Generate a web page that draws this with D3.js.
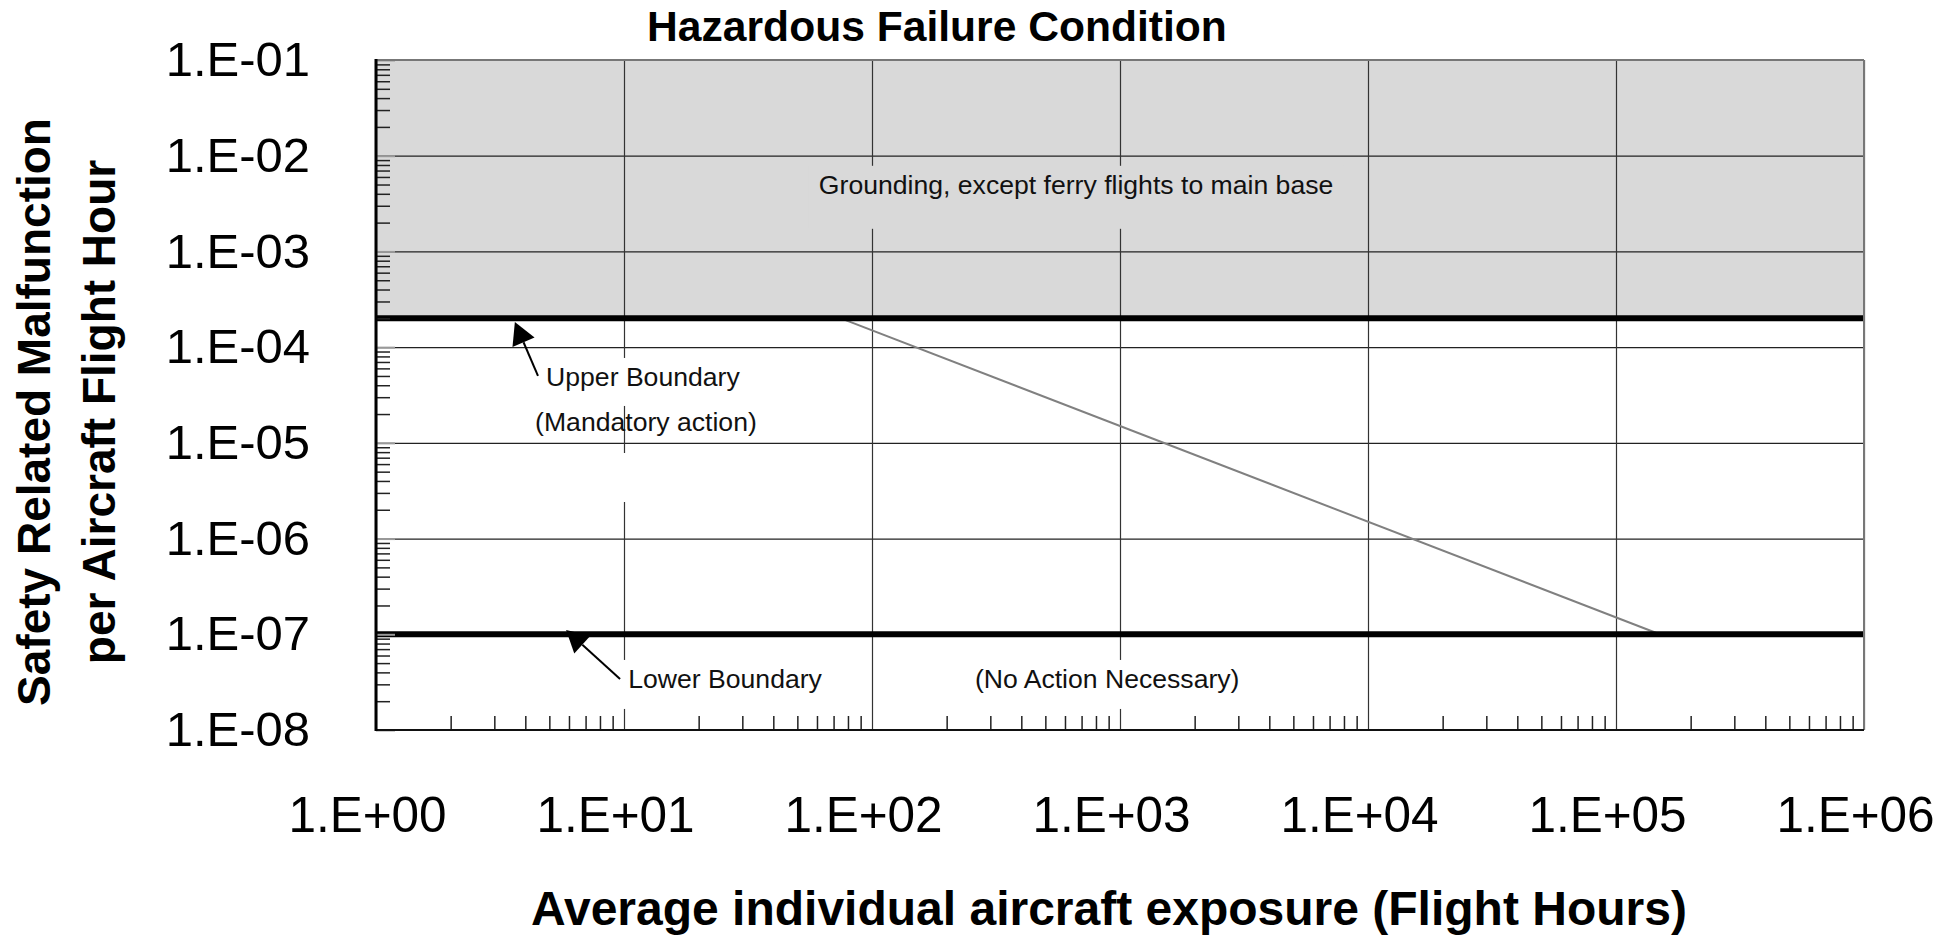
<!DOCTYPE html>
<html>
<head>
<meta charset="utf-8">
<script src="https://cdn.jsdelivr.net/npm/d3@7"></script>
<style>
  body { margin: 0; background: #fff; }
  text { font-family: "Liberation Sans", Arial, sans-serif; }
</style>
</head>
<body>
<div class="container"></div>
<script>
// axis ticks
const xTicks = [1, 1e1, 1e2, 1e3, 1e4, 1e5, 1e6];
const xLabels = ['1.E+00', '1.E+01', '1.E+02', '1.E+03', '1.E+04', '1.E+05', '1.E+06'];
const yTicks = [1e-1, 1e-2, 1e-3, 1e-4, 1e-5, 1e-6, 1e-7, 1e-8];
const yLabels = ['1.E-01', '1.E-02', '1.E-03', '1.E-04', '1.E-05', '1.E-06', '1.E-07', '1.E-08'];

// boundaries (malfunction rate per flight hour)
const upperBoundary = 2e-4;
const lowerBoundary = 1e-7;

// sloped line between the boundaries
const slopeX = [75, 1.5e5];
const slopeY = [2e-4, 1e-7];

// annotation texts (data coords)
const labelText = ['Grounding, except ferry flights to main base', 'Upper Boundary', '(Mandatory action)', 'Lower Boundary', '(No Action Necessary)'];
const labelX = [665, 4.85, 4.38, 10.4, 260];
const labelY = [4e-3, 3.93e-5, 1.33e-5, 2.75e-8, 2.75e-8];

// arrows: tail -> tip (data coords)
const arrowTail = [[4.5, 5.0e-5], [9.64, 3.41e-8]];
const arrowTip = [[3.63, 1.83e-4], [5.84, 1.11e-7]];

const width = 1957;
const height = 936;
const plotLeft = 376;
const plotRight = 1864;
const plotTop = 60;
const plotBottom = 730;

const x = d3.scaleLog().domain([1, 1e6]).range([plotLeft, plotRight]);
const y = d3.scaleLog().domain([1e-8, 1e-1]).range([plotBottom, plotTop]);

const minorX = [];
for (let e = 0; e < 6; e++) for (let k = 2; k < 10; k++) minorX.push(k * Math.pow(10, e));
const minorY = [];
for (let e = -8; e < -1; e++) for (let k = 2; k < 10; k++) minorY.push(k * Math.pow(10, e));

const svg = d3.select('.container')
  .append('svg')
  .attr('width', width)
  .attr('height', height);

// grounding zone
svg.append('rect')
  .attr('x', plotLeft)
  .attr('y', plotTop)
  .attr('width', plotRight - plotLeft)
  .attr('height', y(upperBoundary) - plotTop)
  .attr('fill', '#d9d9d9');

// grid
svg.append('g')
  .attr('transform', `translate(${plotLeft},0)`)
  .call(d3.axisLeft(y).tickValues(yTicks).tickSize(-(plotRight - plotLeft)).tickFormat(''))
  .call(g => g.select('.domain').remove())
  .call(g => g.selectAll('line').attr('stroke', '#222').attr('stroke-width', 1.2));

svg.append('g')
  .attr('transform', `translate(0,${plotBottom})`)
  .call(d3.axisBottom(x).tickValues(xTicks).tickSize(-(plotBottom - plotTop)).tickFormat(''))
  .call(g => g.select('.domain').remove())
  .call(g => g.selectAll('line').attr('stroke', '#333').attr('stroke-width', 1.2));

// box behind each label (offsets from baseline)
const boxes = [
  { fill: '#d9d9d9', t: -28, b: 35, pad: 10 },
  { fill: '#fff', t: -28, b: 20, pad: 10 },
  { fill: '#fff', t: 22, b: 71, pad: 6 },
  { fill: '#fff', t: -28, b: 21, pad: 12 },
  { fill: '#fff', t: -28, b: 21, pad: 10 },
];

const labels = svg.append('g');
labelText.forEach((t, i) => {
  const g = labels.append('g');
  const rect = g.append('rect').attr('fill', boxes[i].fill);
  const txt = g.append('text')
    .attr('x', x(labelX[i]))
    .attr('y', y(labelY[i]))
    .attr('text-anchor', i === 0 ? 'middle' : 'start')
    .attr('font-size', 26.6)
    .attr('fill', '#111')
    .text(t);
  const bb = txt.node().getBBox();
  const by = y(labelY[i]);
  rect.attr('x', bb.x - boxes[i].pad)
    .attr('width', bb.width + 2 * boxes[i].pad)
    .attr('y', by + boxes[i].t)
    .attr('height', boxes[i].b - boxes[i].t);
  txt.raise();
});

// sloped line
svg.append('path')
  .datum(slopeX.map((d, i) => [d, slopeY[i]]))
  .attr('d', d3.line().x(d => x(d[0])).y(d => y(d[1])))
  .attr('fill', 'none')
  .attr('stroke', '#808080')
  .attr('stroke-width', 2);

// arrows
arrowTail.forEach((tail, i) => {
  const x0 = x(tail[0]), y0 = y(tail[1]);
  const x1 = x(arrowTip[i][0]), y1 = y(arrowTip[i][1]);
  const len = Math.hypot(x1 - x0, y1 - y0);
  const ux = (x1 - x0) / len, uy = (y1 - y0) / len;
  const bx = x1 - ux * 22, by = y1 - uy * 22;
  svg.append('line')
    .attr('x1', x0).attr('y1', y0).attr('x2', bx).attr('y2', by)
    .attr('stroke', '#000').attr('stroke-width', 2);
  svg.append('path')
    .attr('d', `M${x1},${y1}L${bx - uy * 12},${by + ux * 12}L${bx + uy * 12},${by - ux * 12}Z`)
    .attr('fill', '#000');
});

// boundaries
svg.append('g')
  .selectAll('line')
  .data([upperBoundary, lowerBoundary])
  .enter()
  .append('line')
  .attr('x1', plotLeft)
  .attr('x2', plotRight)
  .attr('y1', d => y(d))
  .attr('y2', d => y(d))
  .attr('stroke', '#000')
  .attr('stroke-width', 6);

// minor ticks
svg.append('g')
  .attr('transform', `translate(${plotLeft},0)`)
  .call(d3.axisRight(y).tickValues(minorY).tickSize(14).tickFormat(''))
  .call(g => g.select('.domain').remove())
  .call(g => g.selectAll('line').attr('stroke', '#222').attr('stroke-width', 1.5));

svg.append('g')
  .attr('transform', `translate(${plotLeft},0)`)
  .call(d3.axisRight(y).tickValues(yTicks).tickSize(19).tickFormat(''))
  .call(g => g.select('.domain').remove())
  .call(g => g.selectAll('line').attr('stroke', '#999').attr('stroke-width', 2));

svg.append('g')
  .attr('transform', `translate(0,${plotBottom})`)
  .call(d3.axisTop(x).tickValues(minorX).tickSize(14).tickFormat(''))
  .call(g => g.select('.domain').remove())
  .call(g => g.selectAll('line').attr('stroke', '#222').attr('stroke-width', 1.5));

// frame
svg.append('line').attr('x1', plotLeft).attr('x2', plotRight).attr('y1', plotTop).attr('y2', plotTop)
  .attr('stroke', '#777').attr('stroke-width', 2);
svg.append('line').attr('x1', plotRight).attr('x2', plotRight).attr('y1', plotTop).attr('y2', plotBottom)
  .attr('stroke', '#777').attr('stroke-width', 2);
svg.append('line').attr('x1', plotLeft).attr('x2', plotRight).attr('y1', plotBottom).attr('y2', plotBottom)
  .attr('stroke', '#111').attr('stroke-width', 2);
svg.append('line').attr('x1', plotLeft).attr('x2', plotLeft).attr('y1', plotTop - 1).attr('y2', plotBottom + 1)
  .attr('stroke', '#000').attr('stroke-width', 3);

// tick labels
svg.append('g')
  .attr('transform', `translate(${plotLeft},0)`)
  .call(d3.axisLeft(y).tickValues(yTicks).tickSize(0).tickPadding(66).tickFormat((d, i) => yLabels[i]))
  .call(g => g.select('.domain').remove())
  .call(g => g.selectAll('text')
    .attr('font-size', 49)
    .attr('font-family', '"Liberation Sans", Arial, sans-serif')
    .attr('fill', '#000'));

svg.append('g')
  .attr('transform', `translate(0,${plotBottom})`)
  .call(d3.axisBottom(x).tickValues(xTicks).tickSize(0).tickPadding(67).tickFormat((d, i) => xLabels[i]))
  .call(g => g.select('.domain').remove())
  .call(g => g.selectAll('text')
    .attr('dx', -9)
    .attr('font-size', 49.5)
    .attr('font-family', '"Liberation Sans", Arial, sans-serif')
    .attr('fill', '#000'));

// titles
svg.append('text')
  .attr('x', 937)
  .attr('y', 41)
  .attr('text-anchor', 'middle')
  .attr('font-size', 42.6)
  .attr('font-weight', 'bold')
  .text('Hazardous Failure Condition');

svg.append('text')
  .attr('x', 1109)
  .attr('y', 925)
  .attr('text-anchor', 'middle')
  .attr('font-size', 48)
  .attr('font-weight', 'bold')
  .text('Average individual aircraft exposure (Flight Hours)');

const yTitle = svg.append('text')
  .attr('transform', 'translate(0,412) rotate(-90)')
  .attr('text-anchor', 'middle')
  .attr('font-size', 46)
  .attr('font-weight', 'bold');
yTitle.append('tspan').attr('x', 0).attr('y', 50).text('Safety Related Malfunction');
yTitle.append('tspan').attr('x', 0).attr('y', 115).text('per Aircraft Flight Hour');
</script>
</body>
</html>
